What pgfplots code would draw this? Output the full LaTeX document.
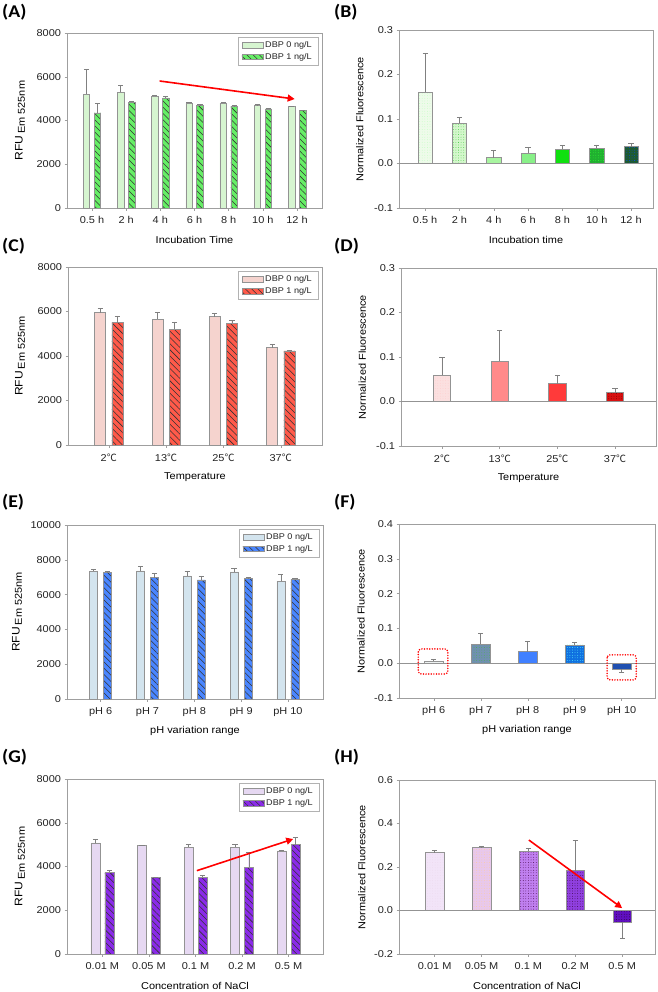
\documentclass[border=0pt]{standalone}
\usepackage{pgfplots}
\pgfplotsset{compat=1.18}
\usepackage{fontspec}
\setmainfont[FakeStretch=1.1]{Liberation Sans}
\newfontfamily\lblfont[FakeStretch=1.1]{Carlito}
\newfontfamily\cjk{Noto Sans CJK KR}
\usetikzlibrary{patterns,patterns.meta,arrows.meta}
\newcommand{\degC}{{\cjk ℃}}
% colours
\definecolor{A0}{HTML}{D6F5D0}\definecolor{A1}{HTML}{66EE66}
\definecolor{C0}{HTML}{F5D3CE}\definecolor{C1}{HTML}{FF5A4A}
\definecolor{E0}{HTML}{D3E4EE}\definecolor{E1}{HTML}{4A86FF}
\definecolor{G0}{HTML}{E6D8F2}\definecolor{G1}{HTML}{8A2BE8}
\definecolor{B1}{HTML}{EEFBEA}\definecolor{B2}{HTML}{D4F7CC}\definecolor{B3}{HTML}{A8F5A0}
\definecolor{B4}{HTML}{88F088}\definecolor{B5}{HTML}{10E010}\definecolor{B6}{HTML}{20B030}\definecolor{B7}{HTML}{1E5A30}
\definecolor{D1}{HTML}{FBE0E0}\definecolor{D2}{HTML}{FF8A8A}\definecolor{D3}{HTML}{FF3A3A}\definecolor{D4}{HTML}{D81010}
\definecolor{F1}{HTML}{EEF2F2}\definecolor{F2}{HTML}{7090B0}\definecolor{F3}{HTML}{4080FF}\definecolor{F4}{HTML}{1070E0}\definecolor{F5}{HTML}{2050B0}
\definecolor{H1}{HTML}{F2E4F8}\definecolor{H2}{HTML}{E8C8EC}\definecolor{H3}{HTML}{C080F0}\definecolor{H4}{HTML}{9040E0}\definecolor{H5}{HTML}{6010C0}
\definecolor{txt}{HTML}{222222}
\tikzset{
  arr/.style={draw=red, line width=1.6pt, -{Triangle[length=7pt,width=7pt]}},
  redbox/.style={draw=red, line width=1.7pt, line cap=round, dash pattern=on 0pt off 2.6pt, rounded corners=3pt},
  plab/.style={anchor=north west, inner sep=0pt, font=\lblfont\bfseries\fontsize{18}{18}\selectfont, text=black},
}
\pgfplotsset{
  mylegend/.style={legend image code/.code={\draw[##1] (0bp,-2.8bp) rectangle (21bp,2.8bp);}},
  panel/.style={scale only axis, anchor=south west,
    axis line style={draw=gray!75}, every tick/.style={draw=gray!75},
    tick align=outside, major tick length=2.5bp, xtick pos=left, ytick pos=left,
    tick label style={font=\fontsize{10}{12}\selectfont, text=txt},
    xticklabel style={yshift=-2.5bp},
    label style={font=\fontsize{10}{12}\selectfont, text=txt},
    every axis x label/.style={at={(axis description cs:0.5,-0.182)}, anchor=center},
    /pgf/number format/assume math mode=true,
    /pgf/number format/1000 sep={},
    scaled y ticks=false,
    legend cell align=left,
    legend style={at={(axis description cs:0.984,0.977)}, anchor=north east, draw=gray!60,
      font=\fontsize{8.3}{10}\selectfont, text=txt, inner xsep=4pt, inner ysep=2.5pt, row sep=0pt},
    every axis plot/.append style={/pgfplots/error bars/y dir=plus, /pgfplots/error bars/y explicit,
      /pgfplots/error bars/error bar style={draw=gray, line width=0.6pt},
      /pgfplots/error bars/error mark options={draw=gray, line width=0.6pt, mark size=2.6pt, rotate=90}},
  },
  ylab/.style={every axis y label/.style={at={(axis description cs:#1,0.5)}, rotate=90, anchor=center}},
  norm/.style={yticklabel style={/pgf/number format/.cd, fixed, fixed zerofill, precision=1}},
  bar0/.style={ybar, bar shift=0, fill=#1, draw=gray!85, line width=0.5pt, mylegend},
  bar1/.style={ybar, bar shift=0, fill=#1, draw=gray!85, line width=0.5pt,
    postaction={pattern={Lines[angle=-45,distance=4.4pt,line width=0.55pt]}, pattern color=black!80}, mylegend},
  sbar/.style={ybar, bar shift=0, fill=#1, draw=gray!85, line width=0.5pt},
  dotted bar/.style={postaction={pattern={Dots[distance=2.6pt,radius=0.4pt]}, pattern color=#1}},
}
\newcommand{\rfu}{{\fontsize{11}{12}\selectfont RFU}\,\raisebox{-0.45ex}{Em 525nm}}
\begin{document}
\begin{tikzpicture}[x=1bp,y=1bp]
\useasboundingbox (0,0) rectangle (658,-992);
\node[plab] at (2,-4) {(A)};
\node[plab] at (334,-4) {(B)};
\node[plab] at (2,-238) {(C)};
\node[plab] at (334,-238) {(D)};
\node[plab] at (2,-494) {(E)};
\node[plab] at (334,-494) {(F)};
\node[plab] at (2,-749) {(G)};
\node[plab] at (334,-749) {(H)};

% ---------------- (A)
\begin{axis}[panel, ylab=-0.184, at={(67bp,-208bp)}, width=255bp, height=175bp,
  xmin=-0.73, xmax=6.73, ymin=0, ymax=8000, ytick={0,2000,...,8000},
  xtick={0,...,6}, xticklabels={0.5 h,2 h,4 h,6 h,8 h,10 h,12 h},
  xlabel={Incubation Time}, ylabel={\rfu}]
\addplot[bar0=A0, bar width=0.19] coordinates {(-0.16,5200)+-(0,1150) (0.84,5300)+-(0,320) (1.84,5100)+-(0,50) (2.84,4800)+-(0,30) (3.84,4800)+-(0,30) (4.84,4700)+-(0,30) (5.84,4630)+-(0,30)};
\addlegendentry{DBP 0 ng/L}
\addplot[bar1=A1, bar width=0.19] coordinates {(0.16,4350)+-(0,420) (1.16,4830)+-(0,50) (2.16,5030)+-(0,60) (3.16,4700)+-(0,30) (4.16,4650)+-(0,30) (5.16,4530)+-(0,30) (6.16,4450)+-(0,30)};
\addlegendentry{DBP 1 ng/L}
\draw[arr] (axis cs:1.98,5806) -- (axis cs:5.93,4983);
\end{axis}

% ---------------- (B)
\begin{axis}[panel, norm, ylab=-0.154, at={(399bp,-208bp)}, width=254bp, height=178bp,
  xmin=-0.76, xmax=6.64, ymin=-0.1, ymax=0.3, ytick={-0.1,0,0.1,0.2,0.3},
  xtick={0,...,6}, xticklabels={0.5 h,2 h,4 h,6 h,8 h,10 h,12 h},
  xlabel={Incubation time}, ylabel={Normalized Fluorescence}]
\draw[gray!85, line width=0.6pt] (axis cs:-0.76,0) -- (axis cs:6.64,0);
\addplot[sbar=B1, bar width=0.41, dotted bar=green!25] coordinates {(0,0.161)+-(0,0.087)};
\addplot[sbar=B2, bar width=0.41, dotted bar=green!55!gray] coordinates {(1,0.090)+-(0,0.013)};
\addplot[sbar=B3, bar width=0.41] coordinates {(2,0.013)+-(0,0.017)};
\addplot[sbar=B4, bar width=0.41] coordinates {(3,0.024)+-(0,0.012)};
\addplot[sbar=B5, bar width=0.41] coordinates {(4,0.032)+-(0,0.008)};
\addplot[sbar=B6, bar width=0.41, dotted bar=green!80] coordinates {(5,0.034)+-(0,0.008)};
\addplot[sbar=B7, bar width=0.41, dotted bar=blue!70!cyan] coordinates {(6,0.038)+-(0,0.007)};
\end{axis}

% ---------------- (C)
\begin{axis}[panel, ylab=-0.189, at={(68bp,-445bp)}, width=254bp, height=178bp,
  xmin=-0.71, xmax=3.72, ymin=0, ymax=8000, ytick={0,2000,...,8000},
  xtick={0,...,3}, xticklabels={2\degC,13\degC,25\degC,37\degC},
  xlabel={Temperature}, ylabel={\rfu}]
\addplot[bar0=C0, bar width=0.19] coordinates {(-0.15,5950)+-(0,200) (0.85,5650)+-(0,300) (1.85,5775)+-(0,150) (2.85,4380)+-(0,165)};
\addlegendentry{DBP 0 ng/L}
\addplot[bar1=C1, bar width=0.19] coordinates {(0.15,5500)+-(0,300) (1.15,5200)+-(0,330) (2.15,5475)+-(0,150) (3.15,4230)+-(0,30)};
\addlegendentry{DBP 1 ng/L}
\end{axis}

% ---------------- (D)
\begin{axis}[panel, norm, ylab=-0.152, at={(401bp,-446bp)}, width=255bp, height=178bp,
  xmin=-0.71, xmax=3.71, ymin=-0.1, ymax=0.3, ytick={-0.1,0,0.1,0.2,0.3},
  xtick={0,...,3}, xticklabels={2\degC,13\degC,25\degC,37\degC},
  xlabel={Temperature}, ylabel={Normalized Fluorescence}]
\draw[gray!85, line width=0.6pt] (axis cs:-0.71,0) -- (axis cs:3.71,0);
\addplot[sbar=D1, bar width=0.30, dotted bar=red!20] coordinates {(0,0.060)+-(0,0.040)};
\addplot[sbar=D2, bar width=0.30, dotted bar=red!45] coordinates {(1,0.090)+-(0,0.070)};
\addplot[sbar=D3, bar width=0.30] coordinates {(2,0.040)+-(0,0.020)};
\addplot[sbar=D4, bar width=0.30, dotted bar=red!40!black] coordinates {(3,0.020)+-(0,0.010)};
\end{axis}

% ---------------- (E)
\begin{axis}[panel, ylab=-0.195, at={(67bp,-699bp)}, width=256bp, height=174bp,
  xmin=-0.72, xmax=4.75, ymin=0, ymax=10000, ytick={0,2000,...,10000},
  xtick={0,...,4}, xticklabels={pH 6,pH 7,pH 8,pH 9,pH 10},
  xlabel={pH variation range}, ylabel={\rfu}]
\addplot[bar0=E0, bar width=0.17] coordinates {(-0.15,7330)+-(0,150) (0.85,7370)+-(0,240) (1.85,7080)+-(0,280) (2.85,7300)+-(0,200) (3.85,6770)+-(0,420)};
\addlegendentry{DBP 0 ng/L}
\addplot[bar1=E1, bar width=0.17] coordinates {(0.15,7290)+-(0,30) (1.15,6980)+-(0,250) (2.15,6850)+-(0,220) (3.15,6940)+-(0,30) (4.15,6880)+-(0,60)};
\addlegendentry{DBP 1 ng/L}
\end{axis}

% ---------------- (F)
\begin{axis}[panel, norm, ylab=-0.148, at={(399bp,-698bp)}, width=256bp, height=174bp,
  xmin=-0.74, xmax=4.71, ymin=-0.1, ymax=0.4, ytick={-0.1,0,0.1,0.2,0.3,0.4},
  xtick={0,...,4}, xticklabels={pH 6,pH 7,pH 8,pH 9,pH 10},
  xlabel={pH variation range}, ylabel={Normalized Fluorescence}]
\draw[gray!85, line width=0.6pt] (axis cs:-0.74,0) -- (axis cs:4.71,0);
\addplot[sbar=F1, bar width=0.42] coordinates {(0,0.007)+-(0,0.003)};
\addplot[sbar=F2, bar width=0.42, dotted bar=green!40!gray] coordinates {(1,0.054)+-(0,0.032)};
\addplot[sbar=F3, bar width=0.42] coordinates {(2,0.033)+-(0,0.030)};
\addplot[sbar=F4, bar width=0.42, dotted bar=cyan!60] coordinates {(3,0.053)+-(0,0.007)};
\addplot[sbar=F5, bar width=0.42, /pgfplots/error bars/y dir=minus] coordinates {(4,-0.017)+-(0,0.010)};
\draw[redbox] (axis cs:-0.33,0.041) rectangle (axis cs:0.30,-0.031);
\draw[redbox] (axis cs:3.69,0.024) rectangle (axis cs:4.31,-0.048);
\end{axis}

% ---------------- (G)
\begin{axis}[panel, ylab=-0.184, at={(67bp,-954bp)}, width=256bp, height=175bp,
  xmin=-0.76, xmax=4.74, ymin=0, ymax=8000, ytick={0,2000,...,8000},
  xtick={0,...,4}, xticklabels={0.01 M,0.05 M,0.1 M,0.2 M,0.5 M},
  xlabel={Concentration of NaCl}, ylabel={\rfu}]
\addplot[bar0=G0, bar width=0.19] coordinates {(-0.15,5080)+-(0,150) (0.85,4950)+-(0,40) (1.85,4880)+-(0,150) (2.85,4880)+-(0,150) (3.85,4720)+-(0,40)};
\addlegendentry{DBP 0 ng/L}
\addplot[bar1=G1, bar width=0.19] coordinates {(0.15,3730)+-(0,80) (1.15,3500)+-(0,20) (2.15,3520)+-(0,80) (3.15,3960)+-(0,700) (4.15,5000)+-(0,335)};
\addlegendentry{DBP 1 ng/L}
\draw[arr] (axis cs:2.03,3810) -- (axis cs:4.1,5258);
\end{axis}

% ---------------- (H)
\begin{axis}[panel, norm, ylab=-0.145, at={(399bp,-954bp)}, width=256bp, height=174bp,
  xmin=-0.76, xmax=4.7, ymin=-0.2, ymax=0.6, ytick={-0.2,0,0.2,0.4,0.6},
  xtick={0,...,4}, xticklabels={0.01 M,0.05 M,0.1 M,0.2 M,0.5 M},
  xlabel={Concentration of NaCl}, ylabel={Normalized Fluorescence}]
\draw[gray!85, line width=0.6pt] (axis cs:-0.76,0) -- (axis cs:4.7,0);
\addplot[sbar=H1, bar width=0.40, dotted bar=violet!15] coordinates {(0,0.266)+-(0,0.012)};
\addplot[sbar=H2, bar width=0.40, dotted bar=orange!40] coordinates {(1,0.291)+-(0,0.003)};
\addplot[sbar=H3, bar width=0.40, dotted bar=violet!50!black] coordinates {(2,0.274)+-(0,0.012)};
\addplot[sbar=H4, bar width=0.40, dotted bar=violet!40!black] coordinates {(3,0.184)+-(0,0.140)};
\addplot[sbar=H5, bar width=0.40, dotted bar=violet!30!black, /pgfplots/error bars/y dir=minus] coordinates {(4,-0.055)+-(0,0.072)};
\draw[arr] (axis cs:2.01,0.324) -- (axis cs:4.0,0.011);
\end{axis}
\end{tikzpicture}
\end{document}
